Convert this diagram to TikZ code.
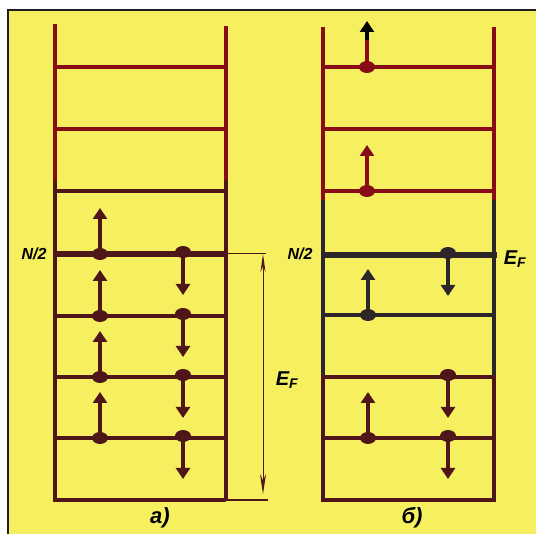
\documentclass[tikz,border=0pt]{standalone}
\usetikzlibrary{arrows.meta}
\usepackage{fontspec}
\setmainfont{Liberation Sans}
\definecolor{bg}{RGB}{246,239,96}
\definecolor{lvred}{RGB}{135,12,22}
\definecolor{lvbrown}{RGB}{78,22,24}
\definecolor{lvblack}{RGB}{45,38,40}
\definecolor{frame}{RGB}{30,30,30}
\tikzset{
  lev/.style={line width=4.2pt},
  thicklev/.style={line width=6.5pt},
  wall/.style={line width=4pt},
  spin/.style={line width=4.6pt,-{Triangle[width=14pt,length=11pt]}},
  lbl/.style={font=\fontsize{16}{16}\selectfont\bfseries\itshape, inner sep=0pt},
  eflbl/.style={font=\fontsize{20}{20}\selectfont\bfseries\itshape, inner sep=0pt},
  panlbl/.style={font=\fontsize{22}{22}\selectfont\bfseries\itshape, inner sep=0pt},
  dim/.style={line width=1pt}
}
\newcommand{\spinup}[3]{%
  \fill[#3] (#1,#2) ellipse [x radius=8, y radius=6];
  \draw[spin,#3] (#1,#2) -- (#1,#2-46);}
\newcommand{\spindown}[3]{%
  \fill[#3] (#1,#2-2) ellipse [x radius=8, y radius=6];
  \draw[spin,#3] (#1,#2) -- (#1,#2+41);}
\begin{document}
\begin{tikzpicture}[x=1pt,y=-1pt]
\useasboundingbox (0,0) rectangle (536,534);
\fill[white] (0,0) rectangle (536,534);
\fill[bg] (8,10) rectangle (536,534);
\draw[frame,line width=1.4pt] (8,534) -- (8,10) -- (536,10);

% ---------- panel a ----------
\draw[wall,lvred] (55,24) -- (55,180);
\draw[wall,lvbrown] (55,180) -- (55,502);
\draw[wall,lvred] (226,26) -- (226,180);
\draw[wall,lvbrown] (226,180) -- (226,500);
\draw[lev,lvred] (55,67) -- (226,67);
\draw[lev,lvred] (55,129) -- (226,129);
\draw[lev,lvbrown] (55,191) -- (226,191);
\draw[thicklev,lvbrown] (53,254) -- (226,254);
\draw[lev,lvbrown] (55,316) -- (226,316);
\draw[lev,lvbrown] (55,377) -- (226,377);
\draw[lev,lvbrown] (55,438) -- (226,438);
\draw[lev,lvbrown] (53,500) -- (226,500);
\draw[dim,lvbrown,line width=1.6pt] (226,500) -- (268,500);
\draw[dim,lvbrown] (226,254) -- (266,254);
\coordinate (ftop) at (263,254);
\coordinate (fbot) at (263,494);
\draw[dim,lvbrown,{Stealth[width=5pt,length=18pt]}-{Stealth[width=6pt,length=20pt]}] (ftop) -- (fbot);

\foreach \y in {254,316,377,438} {\spinup{100}{\y}{lvbrown}}
\foreach \y in {254,316,377,438} {\spindown{183}{\y}{lvbrown}}

\node[lbl] (na) at (34,254) {N/2};
\node[eflbl] (efa) at (287,380) {E\textsubscript{F}};
\node[panlbl] (la) at (160,518) {а)};

% ---------- panel b ----------
\draw[wall,lvred] (323,27) -- (323,200);
\draw[wall,lvblack] (323,200) -- (323,376);
\draw[wall,lvbrown] (323,376) -- (323,502);
\draw[wall,lvred] (494,27) -- (494,200);
\draw[wall,lvblack] (494,200) -- (494,376);
\draw[wall,lvbrown] (494,376) -- (494,502);
\draw[lev,lvred] (323,67) -- (494,67);
\draw[lev,lvred] (323,129) -- (494,129);
\draw[lev,lvred] (323,191) -- (494,191);
\draw[thicklev,lvblack] (323,255) -- (497,255);
\draw[lev,lvblack] (323,315) -- (494,315);
\draw[lev,lvbrown] (321,377) -- (494,377);
\draw[lev,lvbrown] (323,438) -- (494,438);
\draw[lev,lvbrown] (323,500) -- (494,500);

\fill[lvred] (367,67) ellipse [x radius=8, y radius=6];
\draw[line width=4.6pt,lvred] (367,67) -- (367,36);
\draw[spin,black] (367,40) -- (367,21);
\spinup{367}{191}{lvred}
\spinup{368}{315}{lvblack}
\spinup{368}{438}{lvbrown}
\spindown{448}{255}{lvblack}
\spindown{448}{377}{lvbrown}
\spindown{448}{438}{lvbrown}

\node[lbl] (nb) at (300,254) {N/2};
\node[eflbl] (efb) at (515,259) {E\textsubscript{F}};
\node[panlbl] (lb) at (412,518) {б)};
\end{tikzpicture}
\end{document}
